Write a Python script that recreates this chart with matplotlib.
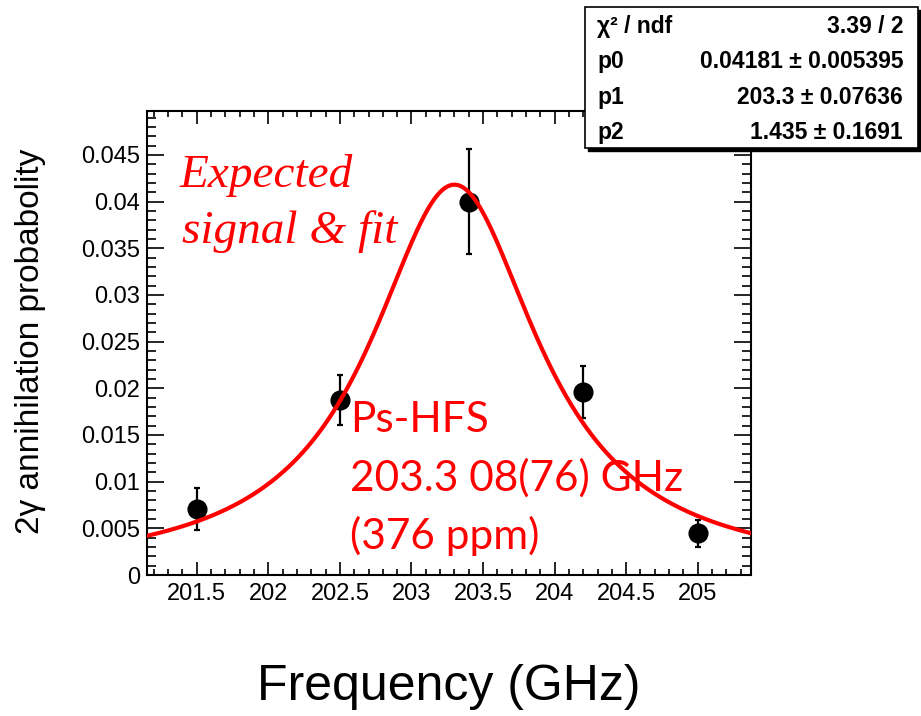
import numpy as np
import matplotlib.pyplot as plt
from matplotlib.ticker import MultipleLocator, FuncFormatter
from matplotlib.patches import Rectangle

# measured points
freq = [201.5, 202.5, 203.4, 204.2, 205.0]
prob = [0.00705, 0.0187, 0.0400, 0.0196, 0.00447]
prob_err = [0.00223, 0.00268, 0.00566, 0.0028, 0.00143]

# fit result (Lorentzian: amplitude, centre, FWHM)
p0, p1, p2 = 0.04181, 203.3, 1.435

stats_names = ['\u03c7\u00b2 / ndf', 'p0', 'p1', 'p2']
stats_values = ['3.39 / 2', '0.04181 \u00b1 0.005395', '203.3 \u00b1 0.07636', '1.435 \u00b1 0.1691']
hfs_lines = ['Ps-HFS', '203.3 08(76) GHz', '(376 ppm)']

W, H = 921, 716
def fx(px):
    return px / W
def fy(py):
    return 1 - py / H

plt.rcParams['font.family'] = ['Liberation Sans', 'DejaVu Sans']

fig = plt.figure(figsize=(W / 100, H / 100), dpi=100)
ax = fig.add_axes([fx(146.7), fy(575), fx(750.7) - fx(146.7), fy(111) - fy(575)])

xmin, xmax = 201.15, 205.37
xs = np.linspace(xmin, xmax, 500)
ys = p0 * (p2 / 2) ** 2 / ((xs - p1) ** 2 + (p2 / 2) ** 2)

ax.errorbar(freq, prob, yerr=prob_err, fmt='o', color='black', ms=13.5,
            elinewidth=1.6, capsize=2.5, capthick=1.6, zorder=3)
ax.plot(xs, ys, color='red', lw=3, zorder=4)

ax.set_xlim(xmin, xmax)
ax.set_ylim(0, 0.0497)

ax.xaxis.set_major_locator(MultipleLocator(0.5))
ax.xaxis.set_minor_locator(MultipleLocator(0.1))
ax.yaxis.set_major_locator(MultipleLocator(0.005))
ax.yaxis.set_minor_locator(MultipleLocator(0.001))
ax.xaxis.set_major_formatter(FuncFormatter(lambda v, p: '%g' % round(v, 3)))
ax.yaxis.set_major_formatter(FuncFormatter(lambda v, p: '%g' % round(v, 4)))

ax.tick_params(which='both', direction='in', top=True, right=True, width=1.2,
               labelsize=17, colors='black')
ax.tick_params(axis='x', which='major', length=9.5, pad=6)
ax.tick_params(axis='x', which='minor', length=4.5)
ax.tick_params(axis='y', which='major', length=12, pad=5)
ax.tick_params(axis='y', which='minor', length=6.5)
for s in ax.spines.values():
    s.set_linewidth(1.5)

fig.text(fx(31), fy(341), '2\u03b3 annihilation probabolity', rotation=90,
         fontsize=24, ha='center', va='center')
fig.text(fx(449), fy(700), 'Frequency (GHz)', fontsize=36, ha='center', va='baseline')

# annotations
fig.text(fx(180), fy(187), 'Expected', color='red', fontsize=34,
         family='Liberation Serif', style='italic', va='baseline')
fig.text(fx(182), fy(243), 'signal & fit', color='red', fontsize=34,
         family='Liberation Serif', style='italic', va='baseline')
for line, base in zip(hfs_lines, [432, 491, 549]):
    fig.text(fx(350), fy(base), line, color='red', fontsize=30.5,
             family=['Lato', 'DejaVu Sans'], va='baseline', zorder=5)

# stats box with shadow
fig.patches.append(Rectangle((fx(588), fy(151)), fx(918) - fx(585), fy(7) - fy(148),
                             transform=fig.transFigure, facecolor='black',
                             edgecolor='black', zorder=10))
fig.patches.append(Rectangle((fx(585), fy(148)), fx(918) - fx(585), fy(7) - fy(148),
                             transform=fig.transFigure, facecolor='white',
                             edgecolor='black', lw=1.2, zorder=11))
for name, val, base in zip(stats_names, stats_values, [33, 68, 104, 139]):
    fig.text(fx(597), fy(base), name, fontsize=16.5, weight='bold', va='baseline', zorder=12)
    fig.text(fx(903), fy(base), val, fontsize=16.5, weight='bold', va='baseline',
             ha='right', zorder=12)

fig.savefig('out.png', dpi=100)
